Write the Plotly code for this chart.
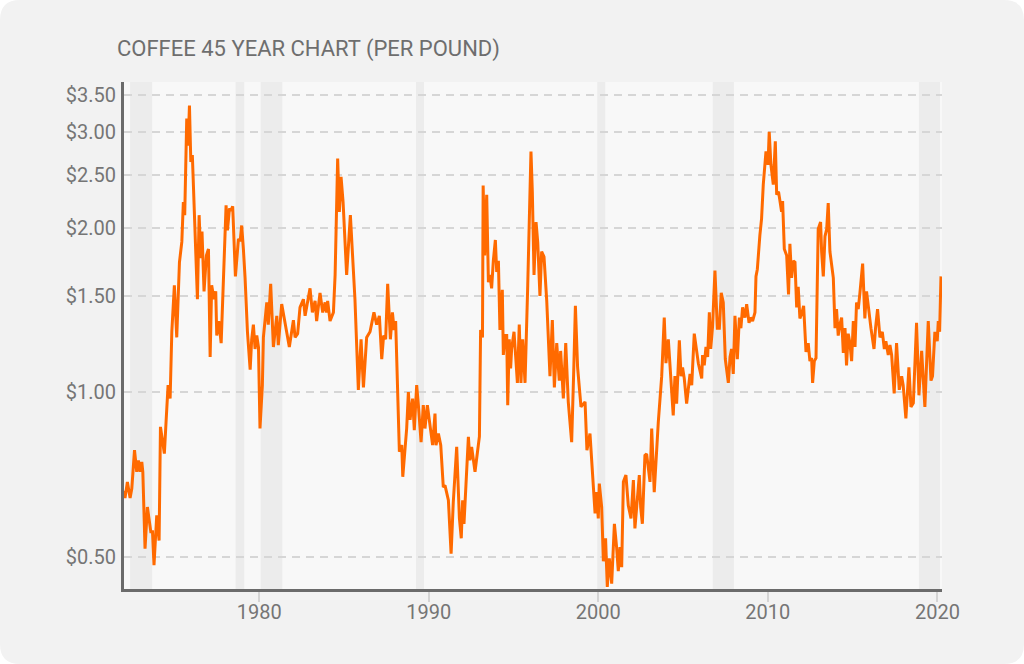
import plotly.graph_objects as go

# Coffee price per pound (decimal year, USD).
years = [
    1972.03, 1972.09, 1972.23, 1972.39, 1972.49, 1972.65, 1972.78, 1972.88, 1972.98, 1973.08,
    1973.14, 1973.27, 1973.41, 1973.61, 1973.71, 1973.80, 1973.96, 1974.10, 1974.18, 1974.30,
    1974.41, 1974.51, 1974.63, 1974.75, 1974.85, 1975.00, 1975.14, 1975.30, 1975.44, 1975.53,
    1975.61, 1975.73, 1975.81, 1975.89, 1975.97, 1976.06, 1976.16, 1976.28, 1976.36, 1976.46,
    1976.56, 1976.63, 1976.75, 1976.89, 1977.01, 1977.11, 1977.20, 1977.34, 1977.44, 1977.50,
    1977.62, 1977.76, 1977.89, 1977.97, 1978.05, 1978.13, 1978.25, 1978.33, 1978.44, 1978.60,
    1978.78, 1978.88, 1978.97, 1979.07, 1979.17, 1979.31, 1979.47, 1979.56, 1979.66, 1979.76,
    1979.86, 1979.96, 1980.05, 1980.19, 1980.25, 1980.45, 1980.54, 1980.68, 1980.84, 1981.04,
    1981.13, 1981.33, 1981.53, 1981.78, 1982.02, 1982.12, 1982.27, 1982.41, 1982.61, 1982.71,
    1983.00, 1983.14, 1983.30, 1983.39, 1983.59, 1983.75, 1983.89, 1983.98, 1984.04, 1984.18,
    1984.38, 1984.48, 1984.63, 1984.73, 1984.83, 1984.95, 1985.16, 1985.38, 1985.65, 1985.85,
    1986.01, 1986.15, 1986.34, 1986.54, 1986.77, 1986.93, 1987.09, 1987.23, 1987.34, 1987.46,
    1987.58, 1987.74, 1987.86, 1987.96, 1988.05, 1988.21, 1988.27, 1988.41, 1988.47, 1988.70,
    1988.80, 1988.90, 1989.05, 1989.15, 1989.29, 1989.39, 1989.55, 1989.68, 1989.78, 1989.92,
    1990.08, 1990.23, 1990.37, 1990.43, 1990.57, 1990.71, 1990.86, 1990.96, 1991.16, 1991.22,
    1991.32, 1991.45, 1991.65, 1991.81, 1991.92, 1992.00, 1992.08, 1992.20, 1992.34, 1992.43,
    1992.53, 1992.73, 1992.87, 1992.99, 1993.06, 1993.17, 1993.21, 1993.30, 1993.42, 1993.52,
    1993.61, 1993.71, 1993.81, 1993.93, 1994.01, 1994.11, 1994.20, 1994.34, 1994.40, 1994.50,
    1994.60, 1994.66, 1994.75, 1994.83, 1994.89, 1995.03, 1995.13, 1995.23, 1995.34, 1995.44,
    1995.54, 1995.64, 1995.68, 1995.84, 1996.03, 1996.11, 1996.21, 1996.33, 1996.43, 1996.56,
    1996.66, 1996.80, 1996.96, 1997.15, 1997.29, 1997.41, 1997.55, 1997.70, 1997.78, 1997.94,
    1998.08, 1998.23, 1998.43, 1998.55, 1998.65, 1998.78, 1998.98, 1999.22, 1999.33, 1999.51,
    1999.71, 1999.81, 1999.90, 2000.00, 2000.06, 2000.20, 2000.30, 2000.43, 2000.53, 2000.65,
    2000.79, 2000.95, 2001.08, 2001.18, 2001.28, 2001.38, 2001.48, 2001.63, 2001.77, 2001.93,
    2002.07, 2002.16, 2002.42, 2002.50, 2002.60, 2002.75, 2002.85, 2002.95, 2003.05, 2003.15,
    2003.30, 2003.54, 2003.74, 2003.89, 2003.99, 2004.13, 2004.42, 2004.52, 2004.62, 2004.78,
    2004.88, 2004.97, 2005.07, 2005.21, 2005.41, 2005.51, 2005.66, 2005.90, 2006.10, 2006.15,
    2006.25, 2006.35, 2006.45, 2006.55, 2006.63, 2006.74, 2006.88, 2007.02, 2007.14, 2007.25,
    2007.37, 2007.49, 2007.67, 2007.77, 2007.86, 2007.96, 2008.06, 2008.20, 2008.32, 2008.41,
    2008.51, 2008.65, 2008.75, 2008.89, 2008.98, 2009.10, 2009.24, 2009.30, 2009.38, 2009.53,
    2009.63, 2009.73, 2009.89, 2010.01, 2010.08, 2010.18, 2010.32, 2010.44, 2010.52, 2010.63,
    2010.71, 2010.81, 2010.87, 2010.97, 2011.11, 2011.22, 2011.30, 2011.40, 2011.50, 2011.60,
    2011.70, 2011.79, 2011.89, 2011.99, 2012.11, 2012.25, 2012.38, 2012.48, 2012.58, 2012.64,
    2012.74, 2012.84, 2012.97, 2013.11, 2013.17, 2013.27, 2013.37, 2013.47, 2013.56, 2013.66,
    2013.86, 2013.96, 2014.05, 2014.15, 2014.25, 2014.35, 2014.45, 2014.55, 2014.64, 2014.74,
    2014.84, 2014.94, 2015.04, 2015.14, 2015.23, 2015.33, 2015.43, 2015.59, 2015.72, 2015.82,
    2016.08, 2016.26, 2016.35, 2016.47, 2016.61, 2016.75, 2016.87, 2016.96, 2017.10, 2017.20,
    2017.30, 2017.45, 2017.59, 2017.75, 2017.89, 2017.98, 2018.14, 2018.32, 2018.44, 2018.58,
    2018.77, 2018.91, 2019.07, 2019.26, 2019.46, 2019.62, 2019.71, 2019.85, 2019.99, 2020.05,
    2020.13, 2020.21,
]
prices = [
    0.66, 0.64, 0.685, 0.64, 0.666, 0.783, 0.715, 0.75, 0.715, 0.745,
    0.715, 0.517, 0.616, 0.555, 0.555, 0.482, 0.595, 0.535, 0.864, 0.822,
    0.772, 0.882, 1.03, 0.974, 1.29, 1.57, 1.26, 1.73, 1.885, 2.23,
    2.11, 3.17, 2.83, 3.35, 2.64, 2.72, 2.17, 1.76, 1.48, 2.11,
    1.76, 1.97, 1.53, 1.78, 1.83, 1.16, 1.57, 1.48, 1.53, 1.27,
    1.35, 1.23, 1.59, 1.76, 2.20, 1.98, 2.17, 2.15, 2.19, 1.63,
    1.91, 1.89, 2.02, 1.83, 1.62, 1.29, 1.10, 1.25, 1.33, 1.20,
    1.27, 1.21, 0.858, 1.03, 1.26, 1.46, 1.33, 1.58, 1.21, 1.38,
    1.22, 1.45, 1.33, 1.21, 1.355, 1.26, 1.28, 1.43, 1.48, 1.38,
    1.55, 1.40, 1.47, 1.35, 1.52, 1.40, 1.46, 1.40, 1.47, 1.35,
    1.40, 1.64, 2.68, 2.14, 2.48, 2.23, 1.64, 2.11, 1.48, 1.01,
    1.25, 1.02, 1.26, 1.29, 1.40, 1.33, 1.38, 1.15, 1.27, 1.25,
    1.58, 1.25, 1.40, 1.30, 1.35, 0.882, 0.778, 0.80, 0.70, 0.858,
    1.00, 0.89, 0.973, 0.852, 1.03, 0.947, 0.81, 0.947, 0.858, 0.947,
    0.858, 0.80, 0.914, 0.80, 0.84, 0.80, 0.67, 0.675, 0.634, 0.574,
    0.506, 0.63, 0.794, 0.587, 0.54, 0.634, 0.574, 0.68, 0.828, 0.75,
    0.794, 0.715, 0.78, 0.83, 1.30, 1.26, 2.39, 1.78, 2.30, 1.59,
    1.64, 1.55, 1.74, 1.90, 1.66, 1.74, 1.30, 1.54, 1.17, 1.27,
    1.27, 0.947, 1.25, 1.105, 1.20, 1.29, 1.16, 1.04, 1.33, 1.04,
    1.25, 1.04, 1.04, 1.57, 2.76, 2.33, 1.64, 2.05, 1.88, 1.50,
    1.81, 1.77, 1.47, 1.07, 1.355, 1.02, 1.23, 1.05, 1.19, 0.974,
    1.23, 0.96, 0.81, 1.09, 1.44, 1.11, 0.94, 0.96, 0.783, 0.84,
    0.648, 0.60, 0.656, 0.587, 0.68, 0.616, 0.49, 0.54, 0.44, 0.496,
    0.446, 0.574, 0.52, 0.47, 0.52, 0.478, 0.685, 0.705, 0.62, 0.587,
    0.69, 0.563, 0.705, 0.615, 0.574, 0.766, 0.771, 0.715, 0.685, 0.858,
    0.656, 0.882, 1.07, 1.37, 1.13, 1.25, 0.907, 1.07, 0.953, 1.245,
    1.07, 1.11, 1.06, 0.953, 1.08, 1.03, 1.28, 1.13, 1.06, 1.17,
    1.12, 1.21, 1.16, 1.40, 1.20, 1.32, 1.67, 1.31, 1.31, 1.52,
    1.46, 1.15, 1.04, 1.16, 1.20, 1.08, 1.38, 1.15, 1.37, 1.31,
    1.43, 1.37, 1.45, 1.34, 1.37, 1.35, 1.40, 1.63, 1.68, 1.94,
    2.08, 2.40, 2.76, 2.61, 3.00, 2.61, 2.40, 2.88, 2.30, 2.33,
    2.25, 2.14, 2.24, 1.83, 1.78, 1.51, 1.87, 1.62, 1.74, 1.73,
    1.43, 1.56, 1.365, 1.39, 1.44, 1.185, 1.23, 1.14, 1.155, 1.04,
    1.14, 1.155, 1.99, 2.05, 1.81, 1.63, 1.93, 1.99, 2.22, 1.81,
    1.62, 1.31, 1.42, 1.27, 1.33, 1.37, 1.18, 1.31, 1.12, 1.28,
    1.23, 1.14, 1.35, 1.21, 1.46, 1.42, 1.52, 1.72, 1.365, 1.53,
    1.31, 1.20, 1.31, 1.42, 1.26, 1.29, 1.20, 1.24, 1.17, 1.22,
    1.17, 0.995, 1.23, 1.01, 1.07, 1.03, 0.895, 1.11, 0.94, 0.955,
    1.34, 0.987, 1.19, 0.94, 1.35, 1.05, 1.07, 1.29, 1.24, 1.35,
    1.29, 1.63,
]

# Shaded periods (start / end, decimal year)
band_start = [1972.39, 1978.61, 1980.09, 1989.25, 1999.94, 2006.75, 2018.91]
band_end = [1973.69, 1979.12, 1981.37, 1989.72, 2000.41, 2008.00, 2020.15]

x_ticks = [1980, 1990, 2000, 2010, 2020]
y_ticks = [0.5, 1.0, 1.5, 2.0, 2.5, 3.0, 3.5]
y_labels = ["$0.50", "$1.00", "$1.50", "$2.00", "$2.50", "$3.00", "$3.50"]

W, H = 1024, 664
L, R, T, B = 124, 82, 82, 75


def px_x(x):
    return (x - L) / (W - L - R)


def px_y(y):
    return (H - B - y) / (H - T - B)


# Rounded card behind everything
r = 20
card = (
    f"M {px_x(r)},{px_y(0)} L {px_x(W - r)},{px_y(0)} "
    f"Q {px_x(W)},{px_y(0)} {px_x(W)},{px_y(r)} "
    f"L {px_x(W)},{px_y(H - r)} Q {px_x(W)},{px_y(H)} {px_x(W - r)},{px_y(H)} "
    f"L {px_x(r)},{px_y(H)} Q {px_x(0)},{px_y(H)} {px_x(0)},{px_y(H - r)} "
    f"L {px_x(0)},{px_y(r)} Q {px_x(0)},{px_y(0)} {px_x(r)},{px_y(0)} Z"
)
shapes = [
    dict(type="path", path=card, xref="paper", yref="paper",
         fillcolor="#f2f2f2", line_width=0, layer="below"),
    dict(type="rect", xref="paper", yref="paper", x0=0, x1=1, y0=0, y1=1,
         fillcolor="#f8f8f8", line_width=0, layer="below"),
]
for s, e in zip(band_start, band_end):
    shapes.append(dict(type="rect", xref="x", yref="paper", x0=s, x1=e, y0=0, y1=1,
                       fillcolor="#ececec", line_width=0, layer="below"))

fig = go.Figure()
fig.add_trace(go.Scatter(x=years, y=prices, mode="lines",
                         line=dict(color="#ff6a00", width=3), hoverinfo="x+y"))

fig.update_layout(
    width=W, height=H,
    margin=dict(l=L, r=R, t=T, b=B),
    paper_bgcolor="white",
    plot_bgcolor="rgba(0,0,0,0)",
    font=dict(family="Roboto", color="#757575"),
    showlegend=False,
    shapes=shapes,
    title=dict(text="COFFEE 45 YEAR CHART (PER POUND)", xref="container", yref="container",
               x=117 / W, y=1 - 48 / H, xanchor="left", yanchor="middle",
               font=dict(size=22, color="#6e6e6e")),
)
fig.update_xaxes(
    range=[1972.03, 2020.27], tickvals=x_ticks, showgrid=False, zeroline=False,
    showline=True, linecolor="#6b6b6b", linewidth=3,
    ticks="outside", ticklen=10, tickwidth=2, tickcolor="#d4d4d4",
    ticklabelstandoff=-7,
    tickfont=dict(size=20, color="#757575"),
)
fig.update_yaxes(
    type="log", range=[-0.3605, 0.5682], tickvals=y_ticks, ticktext=y_labels,
    showgrid=True, gridcolor="#d6d6d6", gridwidth=1.5, griddash="8px,6px",
    zeroline=False, showline=True, linecolor="#6b6b6b", linewidth=3,
    ticks="outside", ticklen=1, tickcolor="rgba(0,0,0,0)",
    tickfont=dict(size=20, color="#757575"),
)

# drop the default page margin so the figure sits at the window corner
fig.write_html("out.html", config={"displayModeBar": False},
               post_script="document.body.style.margin='0px';")
